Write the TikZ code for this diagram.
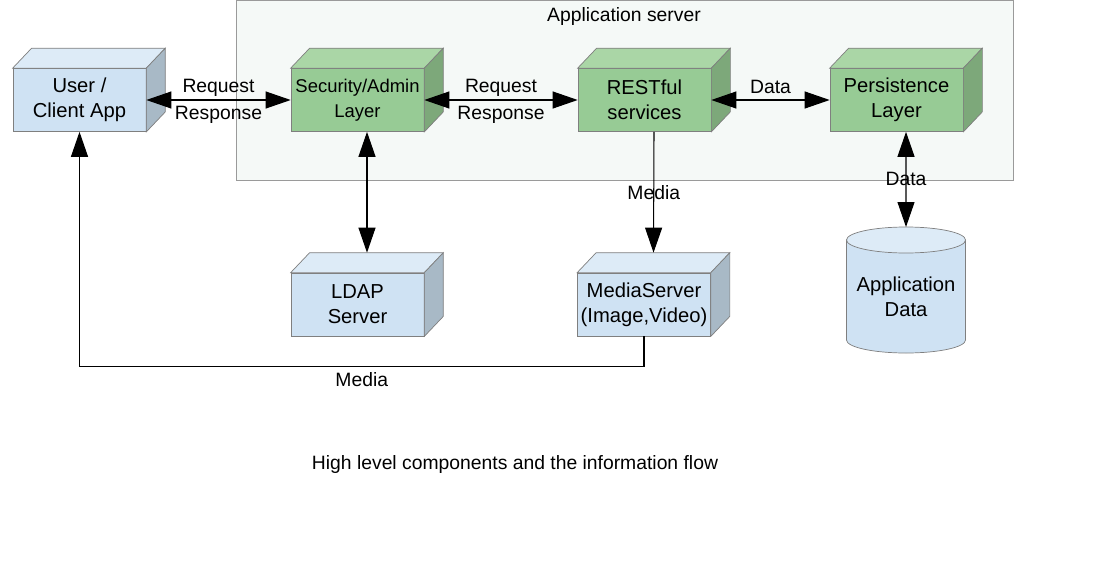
\documentclass[tikz,border=0pt]{standalone}
\usepackage{fontspec}
\setmainfont{Liberation Sans}
\usetikzlibrary{arrows.meta,calc}
\definecolor{edgegray}{HTML}{7F7F7F}
\definecolor{frameline}{HTML}{9A9A9A}
\definecolor{framefill}{HTML}{F5F9F7}
\definecolor{frontblu}{HTML}{CFE2F3}
\definecolor{topblu}{HTML}{DDEBF7}
\definecolor{sideblu}{HTML}{A8B9C6}
\definecolor{frontgrn}{HTML}{97CB95}
\definecolor{topgrn}{HTML}{AAD6A6}
\definecolor{sidegrn}{HTML}{7DA87A}
\tikzset{
  box/.style={draw=edgegray, minimum width=2.66cm, minimum height=1.26cm,
              inner sep=1pt, align=center, font=\fontsize{11.5}{14.2}\selectfont},
  bluebox/.style={box, fill=frontblu},
  greenbox/.style={box, fill=frontgrn},
  face/.style={draw=edgegray},                                  % top and side of a box
  link/.style={draw=black, line width=0.6pt},
  arr/.style={link, -{Triangle[length=0.5cm, width=0.34cm]}},   % one way
  biarr/.style={link, {Triangle[length=0.5cm, width=0.34cm]}-{Triangle[length=0.5cm, width=0.34cm]}},
  lbl/.style={font=\fontsize{11}{13.6}\selectfont},
}
\begin{document}
\begin{tikzpicture}[x=0.02cm, y=-0.02cm]
  \useasboundingbox (0,0) rectangle (1097,581);
  \draw[draw=frameline, fill=framefill] (236,0.5) rectangle (1013,180);
  \node[lbl] (srvlabel) at (624,17) {Application server};

  \node[bluebox]  (user)  at (79.5,100)  {User /\\Client App};
  \node[greenbox, font=\fontsize{10.5}{14.2}\selectfont] (sec) at (357.5,100) {Security/Admin\\Layer};
  \node[greenbox] (rest)  at (644.5,100) {RESTful\\services};
  \node[greenbox] (pers)  at (896.5,100) {Persistence\\Layer};
  \node[bluebox]  (ldap)  at (357.5,304.5) {LDAP\\Server};
  \node[bluebox]  (media) at (644,304.5) {MediaServer\\(Image,Video)};
  \foreach \n/\c in {user/blu,sec/grn,rest/grn,pers/grn,ldap/blu,media/blu} {
    \filldraw[face, fill=top\c] (\n.north west) -- ($(\n.north west)+(19,-20)$)
      -- ($(\n.north east)+(19,-20)$) -- (\n.north east) -- cycle;
    \filldraw[face, fill=side\c] (\n.north east) -- ($(\n.north east)+(19,-20)$)
      -- ($(\n.south east)+(19,-20)$) -- (\n.south east) -- cycle;
  }

  % database
  \coordinate (dbtop) at (906,227);
  \filldraw[face, fill=frontblu] ($(dbtop)+(-59.5,13)$) -- ($(dbtop)+(-59.5,113)$)
    arc[start angle=180, end angle=360, x radius=59.5, y radius=-13]
    -- ($(dbtop)+(59.5,13)$) -- cycle;
  \filldraw[face, fill=topblu] ($(dbtop)+(0,13)$) ellipse[x radius=59.5, y radius=13];
  \node[lbl, font=\fontsize{11.5}{14.2}\selectfont, align=center] (appdata) at ($(dbtop)+(0,70)$) {Application\\Data};

  \draw[biarr] (user) -- node[lbl, above, inner sep=1.5pt] {Request} node[lbl, below] {Response} (sec);
  \draw[biarr] (sec) -- node[lbl, above, inner sep=1.5pt] {Request} node[lbl, below] {Response} (rest);
  \draw[biarr] (rest) -- node[lbl, above] {Data} (pers);
  \draw[biarr] ([xshift=0.19cm]sec.south) -- ([xshift=0.19cm, yshift=0.4cm]ldap.north);
  \draw[arr] ([xshift=0.19cm]rest.south) -- node[lbl] {Media} ([xshift=0.19cm, yshift=0.4cm]media.north);
  \draw[biarr] ([xshift=0.19cm]pers.south) -- node[lbl] {Data} (dbtop);
  \draw[arr] (media.south) -- ++(0,30) -| node[lbl, pos=0.25, below] {Media} (user.south);

  \node[lbl] (caption) at (515,464) {High level components and the information flow};
\end{tikzpicture}
\end{document}
